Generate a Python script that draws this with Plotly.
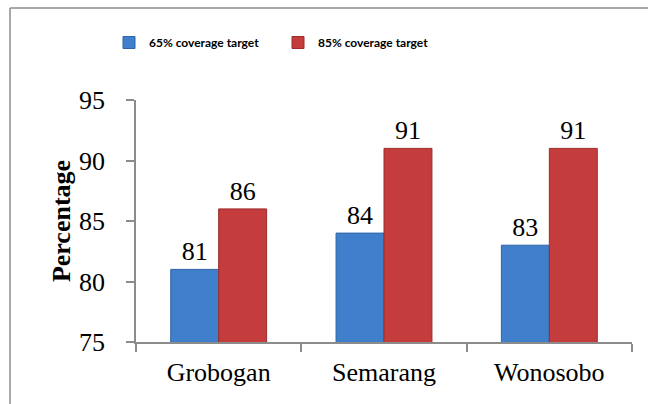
import plotly.graph_objects as go

categories = ["Grobogan", "Semarang", "Wonosobo"]
series_names = ["65% coverage target", "85% coverage target"]
values_65 = [81, 84, 83]
values_85 = [86, 91, 91]

W, H = 648, 404
L, R, T, B = 136, 16, 100, 62
SERIF = "Liberation Serif, Times New Roman, serif"
FS = 26

fig = go.Figure()
colors = ["#3f7fcc", "#c43c3c"]
lines = ["#2f64a6", "#9c2c2c"]
for name, vals, c, lc in zip(series_names, [values_65, values_85], colors, lines):
    fig.add_trace(go.Bar(
        x=categories, y=vals, name=name,
        marker=dict(color=c, line=dict(color=lc, width=1)),
        text=[str(v) for v in vals], textposition="outside",
        textfont=dict(family=SERIF, size=FS, color="black"),
        cliponaxis=False,
    ))

pw = W - L - R
ph = H - T - B
def px_x(p):
    return (p - L) / pw
def px_y(p):
    return 1 - (p - T) / ph

# outer frame (top and left edges visible)
fig.add_shape(type="line", xref="paper", yref="paper",
              x0=px_x(10), x1=px_x(650), y0=px_y(8), y1=px_y(8),
              line=dict(color="#8c8c8c", width=1.5))
fig.add_shape(type="line", xref="paper", yref="paper",
              x0=px_x(10), x1=px_x(10), y0=px_y(8), y1=px_y(410),
              line=dict(color="#8c8c8c", width=1.5))

fig.update_layout(
    width=W, height=H,
    margin=dict(l=L, r=R, t=T, b=B, autoexpand=False),
    paper_bgcolor="white", plot_bgcolor="white",
    barmode="group", bargap=0.42, bargroupgap=0,
    showlegend=True,
    legend=dict(orientation="h", x=px_x(109), y=px_y(28), xanchor="left", yanchor="top",
                font=dict(family="Lato", size=12, color="black", weight="bold"),
                entrywidth=124, entrywidthmode="pixels", bgcolor="rgba(0,0,0,0)"),
    xaxis=dict(showline=True, linecolor="#8c8c8c", linewidth=1.5,
               ticks="outside", tickson="boundaries", ticklen=8, tickcolor="#8c8c8c", tickwidth=1.5,
               tickfont=dict(family=SERIF, size=FS, color="black"),
               ticklabelstandoff=6, showgrid=False, range=[-0.5, 2.5]),
    yaxis=dict(range=[75, 95], dtick=5, showline=True, linecolor="#8c8c8c", linewidth=1.5,
               ticks="outside", ticklen=8, tickcolor="#8c8c8c", tickwidth=1.5,
               tickfont=dict(family=SERIF, size=FS, color="black"),
               ticklabelstandoff=16, showgrid=False, zeroline=False,
               title=dict(text="<b>Percentage</b>", standoff=1,
                          font=dict(family=SERIF, size=FS, color="black"))),
)

fig.write_html("out.html", config={"displayModeBar": False},
               post_script="document.body.style.margin='0';document.body.style.overflow='hidden';")
